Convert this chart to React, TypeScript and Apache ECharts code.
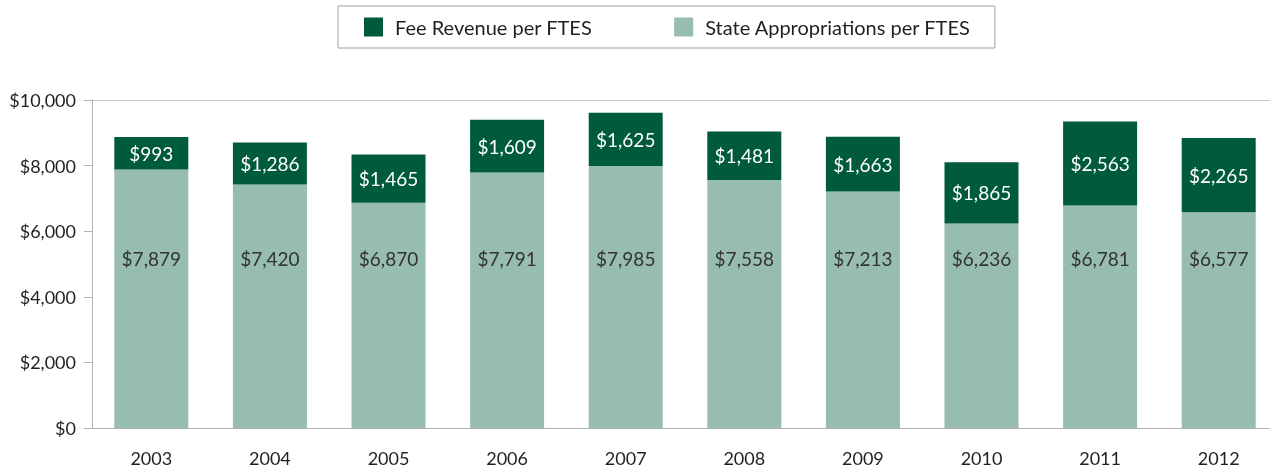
import React, { useEffect, useRef } from "react";
import * as echarts from "echarts";

const years = ["2003", "2004", "2005", "2006", "2007", "2008", "2009", "2010", "2011", "2012"];
const stateApprop = [7879, 7420, 6870, 7791, 7985, 7558, 7213, 6236, 6781, 6577];
const feeRevenue = [993, 1286, 1465, 1609, 1625, 1481, 1663, 1865, 2563, 2265];
const yTicks = { min: 0, max: 10000, interval: 2000 };

const FONT = "Lato";
const fmt = (v: number) => "$" + v.toLocaleString("en-US");

export default function App() {
  const ref = useRef<HTMLDivElement>(null);
  useEffect(() => {
    if (!ref.current) return;
    const chart = echarts.init(ref.current, undefined, { renderer: "svg" });
    chart.setOption({
      animation: false,
      textStyle: { fontFamily: FONT },
      legend: {
        left: 338,
        top: 6,
        padding: [11, 24, 11, 26],
        borderColor: "#a0a0a0",
        borderWidth: 1,
        itemWidth: 19,
        itemHeight: 19,
        itemGap: 82,
        icon: "rect",
        textStyle: { fontFamily: FONT, fontSize: 20, color: "#231f20", padding: [0, 0, 0, 7] },
        data: ["Fee Revenue per FTES", "State Appropriations per FTES"],
      },
      grid: {
        left: 92,
        top: 100,
        bottom: 44,
        right: -8,
        containLabel: false,
        outerBoundsMode: "none",
      },
      xAxis: {
        type: "category",
        data: years,
        axisLine: { lineStyle: { color: "#b3b3b3", width: 1 } },
        axisTick: { length: 8, lineStyle: { color: "#b3b3b3" } },
        axisLabel: { fontFamily: FONT, fontSize: 18, color: "#231f20", margin: 21 },
      },
      yAxis: {
        type: "value",
        min: yTicks.min,
        max: yTicks.max,
        interval: yTicks.interval,
        splitLine: {
          show: true,
          lineStyle: {
            color: ["transparent", "transparent", "transparent", "transparent", "transparent", "#c8c8c8"],
            width: 1,
          },
        },
        axisLine: { show: true, lineStyle: { color: "#b3b3b3", width: 1 } },
        axisTick: { show: true, length: 8, lineStyle: { color: "#b3b3b3" } },
        axisLabel: {
          fontFamily: FONT,
          fontSize: 18,
          color: "#231f20",
          margin: 16,
          formatter: (v: number) => fmt(v),
        },
      },
      series: [
        {
          name: "State Appropriations per FTES",
          type: "bar",
          stack: "total",
          barWidth: 74,
          data: stateApprop,
          itemStyle: { color: "#97bcb0" },
          label: {
            show: true,
            position: "insideBottom",
            distance: 160,
            fontFamily: FONT,
            fontSize: 19,
            color: "#333333",
            formatter: (p: any) => fmt(p.value),
          },
        },
        {
          name: "Fee Revenue per FTES",
          type: "bar",
          stack: "total",
          barWidth: 74,
          data: feeRevenue,
          itemStyle: { color: "#005a3c" },
          label: {
            show: true,
            position: "inside",
            fontFamily: FONT,
            fontSize: 19,
            color: "#ffffff",
            formatter: (p: any) => fmt(p.value),
          },
        },
      ],
    });
    return () => chart.dispose();
  }, []);
  return (
    <div
      ref={ref}
      style={{ position: "fixed", left: 0, top: 0, width: 1270, height: 472 }}
    />
  );
}
